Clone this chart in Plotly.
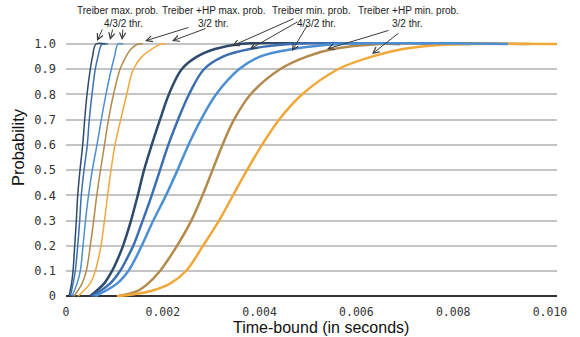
import plotly.graph_objects as go

# ---------------- data ----------------
# Left group: "max. prob." curves (thin lines)
y_max_navy = [0, 0.05, 0.1, 0.2, 0.3, 0.4, 0.5, 0.6, 0.7, 0.8, 0.9, 0.95, 1.0, 1.0]
x_max_navy = [0.000062, 0.000114, 0.000145, 0.00018, 0.000213, 0.000242, 0.000289,
              0.000345, 0.000386, 0.000434, 0.000502, 0.000548, 0.00062, 0.000806]

y_max_blue = [0, 0.05, 0.1, 0.2, 0.3, 0.4, 0.5, 0.6, 0.7, 0.8, 0.9, 0.95, 1.0, 1.0]
x_max_blue = [0.000093, 0.000145, 0.000192, 0.000242, 0.000283, 0.000316, 0.000372,
              0.00044, 0.000481, 0.000537, 0.000605, 0.000661, 0.000744, 0.000868]

y_max_light = [0, 0.05, 0.1, 0.2, 0.3, 0.4, 0.5, 0.6, 0.7, 0.8, 0.9, 0.95, 1.0, 1.0]
x_max_light = [0.000124, 0.000227, 0.000295, 0.000351, 0.000403, 0.000465, 0.000543,
               0.00064, 0.000729, 0.000826, 0.000936, 0.001002, 0.001074, 0.001178]

y_max_brown = [0, 0.05, 0.1, 0.2, 0.3, 0.4, 0.5, 0.6, 0.7, 0.8, 0.9, 0.95, 0.98, 1.0, 1.0]
x_max_brown = [0.000165, 0.000331, 0.000419, 0.000502, 0.000572, 0.000636, 0.000713,
               0.000795, 0.000878, 0.000981, 0.001116, 0.00124, 0.001343, 0.001488, 0.001591]

y_max_orange = [0, 0.05, 0.1, 0.2, 0.3, 0.4, 0.5, 0.6, 0.7, 0.8, 0.9, 0.95, 0.98, 1.0, 1.0]
x_max_orange = [0.000248, 0.000496, 0.000605, 0.000723, 0.000795, 0.00086, 0.00093,
                0.001012, 0.00113, 0.001254, 0.001391, 0.00157, 0.00177, 0.001977, 0.002066]

# Right group: "min. prob." curves (thick lines)
y_min_navy = [0, 0.05, 0.1, 0.15, 0.2, 0.3, 0.4, 0.5, 0.6, 0.7, 0.8, 0.9, 0.95, 0.98, 1.0, 1.0]
x_min_navy = [0.000496, 0.000785, 0.00095, 0.001074, 0.001178, 0.001343, 0.001483, 0.001612,
              0.001771, 0.001942, 0.002125, 0.00239, 0.002707, 0.003079, 0.003595, 0.006901]

y_min_blue = [0, 0.05, 0.1, 0.15, 0.2, 0.3, 0.4, 0.5, 0.6, 0.7, 0.8, 0.9, 0.95, 0.98, 1.0, 1.0]
x_min_blue = [0.000537, 0.000909, 0.001116, 0.00126, 0.00139, 0.001585, 0.001771, 0.001942,
              0.002114, 0.002314, 0.002541, 0.002851, 0.003244, 0.003802, 0.004628, 0.008347]

y_min_light = [0, 0.05, 0.1, 0.15, 0.2, 0.3, 0.4, 0.5, 0.6, 0.7, 0.8, 0.9, 0.95, 0.98, 1.0, 1.0]
x_min_light = [0.000599, 0.001054, 0.001287, 0.001436, 0.001564, 0.001804, 0.002066, 0.002304,
               0.00253, 0.002789, 0.003099, 0.003574, 0.004008, 0.00469, 0.005661, 0.009132]

y_min_brown = [0, 0.02, 0.05, 0.1, 0.2, 0.3, 0.4, 0.5, 0.6, 0.7, 0.8, 0.9, 0.95, 0.98, 1.0, 1.0]
x_min_brown = [0.001054, 0.001467, 0.001694, 0.001942, 0.002293, 0.002589, 0.00282,
               0.003027, 0.003233, 0.003471, 0.003812, 0.004421, 0.004973, 0.005517,
               0.006488, 0.009587]

y_min_orange = [0, 0.02, 0.05, 0.1, 0.2, 0.3, 0.4, 0.5, 0.6, 0.7, 0.8, 0.9, 0.95, 0.98,
                0.995, 1.0, 1.0]
x_min_orange = [0.001054, 0.001736, 0.002149, 0.002479, 0.002831, 0.003161, 0.00345,
                0.00374, 0.00405, 0.004401, 0.004876, 0.00562, 0.006322, 0.006963,
                0.007665, 0.00845, 0.010145]

x_tick_vals = [0, 0.002, 0.004, 0.006, 0.008, 0.010]
x_tick_text = ["0", "0.002", "0.004", "0.006", "0.008", "0.010"]
y_tick_vals = [0, 0.1, 0.2, 0.3, 0.4, 0.5, 0.6, 0.7, 0.8, 0.9, 1.0]
y_tick_text = ["0", "0.1", "0.2", "0.3", "0.4", "0.5", "0.6", "0.7", "0.8", "0.9", "1.0"]

# ---------------- styling ----------------
NAVY = "#2d4a6d"
BLUE = "#3c6fb2"
LIGHT = "#4d8fd3"
BROWN = "#b38a4c"
ORANGE = "#f0a83a"

FIG_W, FIG_H = 580, 337
M_L, M_R, M_T, M_B = 66, 23, 42, 40
PLOT_W = FIG_W - M_L - M_R
PLOT_H = FIG_H - M_T - M_B


def wp(wx, wy):
    """window pixel -> paper coords"""
    return (wx - M_L) / PLOT_W, (M_T + PLOT_H - wy) / PLOT_H


fig = go.Figure()


def add(x, y, color, width):
    fig.add_trace(go.Scatter(x=x, y=y, mode="lines",
                             line=dict(color=color, width=width, shape="spline", smoothing=1.0),
                             hoverinfo="skip", showlegend=False))


# left (max prob.) curves
add(x_max_orange, y_max_orange, ORANGE, 1.5)
add(x_max_brown, y_max_brown, BROWN, 1.5)
add(x_max_light, y_max_light, LIGHT, 1.5)
add(x_max_blue, y_max_blue, BLUE, 1.5)
add(x_max_navy, y_max_navy, NAVY, 1.5)
# right (min prob.) curves
add(x_min_navy, y_min_navy, NAVY, 2.5)
add(x_min_blue, y_min_blue, BLUE, 2.5)
add(x_min_brown, y_min_brown, BROWN, 2.5)
add(x_min_orange, y_min_orange, ORANGE, 2.5)
add(x_min_light, y_min_light, LIGHT, 2.5)

SANS = "Liberation Sans, Arial, sans-serif"
TXT = dict(family=SANS, size=10, color="#222222")

labels = [
    ("Treiber max. prob.", 117, 10), ("4/3/2 thr.", 123, 23),
    ("Treiber +HP max. prob.", 214, 10), ("3/2 thr.", 213, 23),
    ("Treiber min. prob.", 311, 10), ("4/3/2 thr.", 316, 23),
    ("Treiber +HP min. prob.", 408, 10), ("3/2 thr.", 407, 23),
]
for t, px, py in labels:
    xp, yp = wp(px, py)
    fig.add_annotation(x=xp, y=yp, xref="paper", yref="paper", text=t, showarrow=False,
                       font=TXT, xanchor="center", yanchor="middle")

# arrows: (head px, head py, tail px, tail py) in window pixels
arrows = [
    (97, 41, 103, 28), (110, 40, 113, 28), (122, 40, 123, 28),
    (145, 41, 190, 27), (172, 41, 207, 28),
    (232, 46, 295, 18), (250, 49, 299, 21), (292, 51, 308, 24),
    (327, 49, 390, 30), (372, 54, 400, 32),
]
for hx, hy, tx, ty in arrows:
    xp, yp = wp(hx, hy)
    fig.add_annotation(x=xp, y=yp, xref="paper", yref="paper", ax=tx - hx, ay=ty - hy,
                       text="", showarrow=True, arrowhead=5, arrowsize=1.2,
                       arrowwidth=1, arrowcolor="#3a3a3a", standoff=0)

# axis titles
xt, yt = wp(321, 327)
fig.add_annotation(x=xt, y=yt, xref="paper", yref="paper",
                   text="Time-bound (in seconds)", showarrow=False,
                   font=dict(family=SANS, size=16, color="#111111"),
                   xanchor="center", yanchor="middle")
xt, yt = wp(18, 147)
fig.add_annotation(x=xt, y=yt, xref="paper", yref="paper", showarrow=False,
                   text="Probability", textangle=-90,
                   font=dict(family=SANS, size=16.5, color="#111111"),
                   xanchor="center", yanchor="middle")

fig.update_layout(
    width=FIG_W, height=FIG_H,
    margin=dict(l=M_L, r=M_R, t=M_T, b=M_B, autoexpand=False),
    paper_bgcolor="white", plot_bgcolor="white",
    xaxis=dict(range=[0, 0.010145], tickvals=x_tick_vals, ticktext=x_tick_text,
               showgrid=False, zeroline=False, showline=False, ticks="",
               ticklabelstandoff=6, automargin=False,
               tickfont=dict(family="DejaVu Sans Mono, monospace", size=11.5, color="#333333")),
    yaxis=dict(range=[-0.003, 1.008], tickvals=y_tick_vals, ticktext=y_tick_text,
               showgrid=True, gridcolor="#c4c4c4", gridwidth=1.5,
               zeroline=True, zerolinecolor="#333333", zerolinewidth=1.5,
               showline=False, ticks="", ticklabelstandoff=9, automargin=False,
               tickfont=dict(family="DejaVu Sans Mono, monospace", size=12, color="#333333")),
)

fig.write_html("out.html", config={"displayModeBar": False},
               post_script="document.body.style.margin='0';")
